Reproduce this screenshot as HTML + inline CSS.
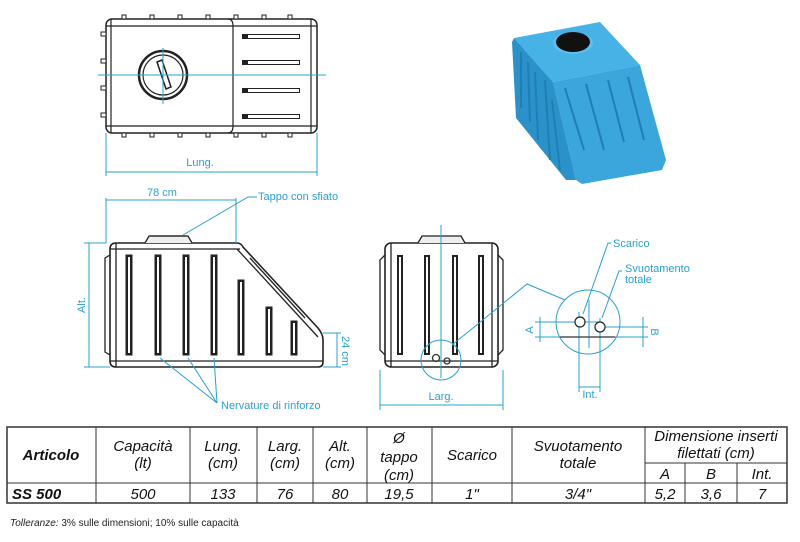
<!DOCTYPE html>
<html><head><meta charset="utf-8"><style>
html,body{margin:0;padding:0;background:#fff;}
svg{display:block;}
text{font-family:"Liberation Sans",sans-serif;}
.c{fill:#2aa0cf;font-size:11px;}
.t{font-size:15px;font-style:italic;fill:#111;}
</style></head><body>
<svg width="800" height="542" viewBox="0 0 800 542" xmlns="http://www.w3.org/2000/svg">
<!-- TOP VIEW -->
<g stroke="#222" fill="none" stroke-width="1.2">
<rect x="106" y="19" width="211" height="114" rx="6" stroke-width="1.5"/>
<line x1="106" y1="26" x2="317" y2="26"/><line x1="106" y1="126" x2="317" y2="126"/>
<line x1="111" y1="19" x2="111" y2="133"/><line x1="311" y1="19" x2="311" y2="133"/>
<path d="M228 19 Q233 19 233 26 L233 126 Q233 133 228 133"/>
<circle cx="163" cy="75" r="24" stroke-width="2.5"/>
<circle cx="163" cy="75" r="20"/>
<path d="M157 62 L162 60 L171 87 L166 89 Z" stroke-width="1.5"/>
</g>
<g fill="#222">
<rect x="242" y="34" width="58" height="5"/><rect x="242" y="60" width="58" height="5"/>
<rect x="242" y="88" width="58" height="5"/><rect x="242" y="114" width="58" height="5"/>
</g>
<g fill="#fff">
<rect x="248" y="35" width="51" height="3"/><rect x="248" y="61" width="51" height="3"/>
<rect x="248" y="89" width="51" height="3"/><rect x="248" y="115" width="51" height="3"/>
</g>
<g stroke="#222" fill="#fff" stroke-width="1">
<rect x="122" y="15" width="4" height="4"/><rect x="150" y="15" width="4" height="4"/><rect x="178" y="15" width="4" height="4"/><rect x="206" y="15" width="4" height="4"/><rect x="234" y="15" width="4" height="4"/><rect x="262" y="15" width="4" height="4"/><rect x="288" y="15" width="4" height="4"/>
<rect x="122" y="133" width="4" height="4"/><rect x="150" y="133" width="4" height="4"/><rect x="178" y="133" width="4" height="4"/><rect x="206" y="133" width="4" height="4"/><rect x="234" y="133" width="4" height="4"/><rect x="262" y="133" width="4" height="4"/><rect x="288" y="133" width="4" height="4"/>
<rect x="101" y="32" width="5" height="4"/><rect x="101" y="59" width="5" height="4"/><rect x="101" y="86" width="5" height="4"/><rect x="101" y="113" width="5" height="4"/>
</g>
<g stroke="#2aa0cf" fill="none" stroke-width="1">
<line x1="98" y1="75" x2="326" y2="75"/><line x1="163" y1="48" x2="163" y2="104"/>
<line x1="106" y1="133" x2="106" y2="176"/><line x1="317" y1="133" x2="317" y2="176"/>
<line x1="106" y1="172" x2="317" y2="172"/>
</g>
<text x="200" y="166" class="c" font-size="12" text-anchor="middle">Lung.</text>

<!-- SIDE VIEW -->
<g stroke="#222" fill="none" stroke-width="1.3">
<path d="M116 243 L237 243 Q241 243 243 247 L318 328 Q323 334 323 340 L323 362 Q323 367 318 367 L116 367 Q110 367 110 361 L110 249 Q110 243 116 243 Z" stroke-width="1.6"/>
<line x1="110" y1="249" x2="240" y2="249"/><line x1="110" y1="361" x2="323" y2="361"/>
<line x1="116" y1="243" x2="116" y2="367"/>
<line x1="237" y1="249" x2="318" y2="337"/>
<path d="M110 255 L105 258 L105 352 L110 355"/>
<path d="M250 258 L305 318"/>
<path d="M145 243 L149 236 L188 236 L192 243" fill="#eee"/>
<line x1="150" y1="236" x2="187" y2="236"/>
</g>
<g fill="#222" stroke="#222">
<rect x="126" y="255" width="6" height="100"/><rect x="155" y="255" width="6" height="100"/><rect x="183" y="255" width="6" height="100"/><rect x="211" y="255" width="6" height="100"/>
<rect x="238" y="280" width="6" height="75"/><rect x="266" y="307" width="6" height="48"/><rect x="291" y="321" width="6" height="34"/>
</g>
<g fill="#fff">
<rect x="128" y="257" width="2" height="96"/><rect x="157" y="257" width="2" height="96"/><rect x="185" y="257" width="2" height="96"/><rect x="213" y="257" width="2" height="96"/>
<rect x="240" y="282" width="2" height="71"/><rect x="268" y="309" width="2" height="44"/><rect x="293" y="323" width="2" height="30"/>
</g>
<g stroke="#2aa0cf" fill="none" stroke-width="1">
<polyline points="84,243 106,243 106,198"/><line x1="236" y1="198" x2="236" y2="243"/>
<line x1="106" y1="200" x2="236" y2="200"/>
<line x1="89" y1="243" x2="89" y2="367"/><line x1="84" y1="367" x2="110" y2="367"/>
<line x1="323" y1="333" x2="341" y2="333"/><line x1="323" y1="367" x2="341" y2="367"/><line x1="337" y1="333" x2="337" y2="367"/>
<polyline points="183,235 248,197 257,197"/>
<line x1="160" y1="358" x2="217" y2="403"/><line x1="188" y1="358" x2="217" y2="403"/><line x1="214" y1="358" x2="217" y2="403"/>
</g>
<text x="162" y="196" class="c" font-size="12" text-anchor="middle">78 cm</text>
<text x="258" y="200" class="c" font-size="10">Tappo con sfiato</text>
<text x="221" y="409" class="c" font-size="10">Nervature di rinforzo</text>
<text transform="translate(85,305) rotate(-90)" class="c" font-size="12" text-anchor="middle">Alt.</text>
<text transform="translate(342,351) rotate(90)" class="c" font-size="11" text-anchor="middle">24 cm</text>

<!-- FRONT VIEW -->
<g stroke="#222" fill="none" stroke-width="1.3">
<rect x="385" y="243" width="113" height="124" rx="6" stroke-width="1.6"/>
<line x1="385" y1="361" x2="498" y2="361"/><line x1="391" y1="243" x2="391" y2="367"/><line x1="492" y1="243" x2="492" y2="367"/>
<path d="M385 255 L380 260 L380 350 L385 355"/><path d="M498 255 L503 260 L503 350 L498 355"/>
<path d="M418 243 L422 236 L461 236 L465 243" fill="#eee"/>
<circle cx="436" cy="358" r="3.5" stroke="#333"/><circle cx="447" cy="361" r="3" stroke="#333"/>
</g>
<g fill="#222">
<rect x="397" y="255" width="6" height="100"/><rect x="424" y="255" width="6" height="100"/><rect x="452" y="255" width="6" height="100"/><rect x="478" y="255" width="6" height="100"/>
</g>
<g fill="#fff">
<rect x="399" y="257" width="2" height="96"/><rect x="426" y="257" width="2" height="96"/><rect x="454" y="257" width="2" height="96"/><rect x="480" y="257" width="2" height="96"/>
</g>
<g stroke="#2aa0cf" fill="none" stroke-width="1">
<line x1="441" y1="225" x2="441" y2="378"/>
<circle cx="441" cy="360" r="20"/>
<polyline points="452,345 527,284 565,300"/>
<line x1="380" y1="370" x2="380" y2="410"/><line x1="503" y1="370" x2="503" y2="410"/>
<line x1="380" y1="405" x2="503" y2="405"/>
<circle cx="588" cy="322" r="32"/>
<line x1="535" y1="322" x2="600" y2="322"/><line x1="605" y1="327" x2="648" y2="327"/>
<line x1="535" y1="337" x2="560" y2="337"/><line x1="615" y1="337" x2="648" y2="337"/>
<line x1="540" y1="317" x2="540" y2="342"/><line x1="643" y1="317" x2="643" y2="347"/>
<line x1="579" y1="312" x2="579" y2="392"/><line x1="600" y1="318" x2="600" y2="392"/>
<line x1="589" y1="300" x2="589" y2="348"/>
<line x1="579" y1="387" x2="600" y2="387"/>
<polyline points="583,314 608,243 611,243"/><polyline points="602,318 619,271 622,271"/>
</g>
<line x1="560" y1="337" x2="615" y2="337" stroke="#333" stroke-width="1.2"/>
<circle cx="580" cy="322" r="5" fill="#fff" stroke="#222" stroke-width="1.2"/>
<circle cx="600" cy="327" r="5" fill="#fff" stroke="#222" stroke-width="1.2"/>
<text x="441" y="400" class="c" font-size="12" text-anchor="middle">Larg.</text>
<text x="613" y="247" class="c" font-size="11">Scarico</text>
<text x="625" y="272" class="c" font-size="11">Svuotamento</text>
<text x="625" y="283" class="c" font-size="11">totale</text>
<text x="590" y="398" class="c" font-size="10" text-anchor="middle">Int.</text>
<text transform="translate(533,330) rotate(-90)" class="c" font-size="11" text-anchor="middle">A</text>
<text transform="translate(651,332) rotate(90)" class="c" font-size="11" text-anchor="middle">B</text>

<!-- 3D -->
<polygon points="514,38 600,22 640,65 553,82" fill="#46b2e6"/>
<polygon points="553,82 640,65 666,160 662,170 582,184 576,180" fill="#3aa6dc"/>
<polygon points="514,38 553,82 576,180 566,180 516,118 512,42" fill="#2b92c9"/>
<g stroke="#1f7fb5" stroke-width="2" fill="none">
<line x1="565" y1="88" x2="584" y2="150"/><line x1="586" y1="84" x2="604" y2="150"/><line x1="608" y1="80" x2="624" y2="142"/><line x1="628" y1="77" x2="644" y2="140"/>
<line x1="521" y1="52" x2="521" y2="108"/><line x1="528" y1="62" x2="530" y2="122"/><line x1="535" y1="72" x2="538" y2="140"/><line x1="545" y1="80" x2="550" y2="160"/><line x1="552" y1="100" x2="560" y2="170"/>
</g>
<ellipse cx="573" cy="43" rx="20" ry="11" fill="#5cc0ec"/>
<ellipse cx="573" cy="42" rx="17" ry="10" fill="#111"/>

<!-- TABLE -->
<g stroke="#333" stroke-width="1" fill="none">
<rect x="7" y="427" width="780" height="76" stroke-width="1.5"/>
<line x1="7" y1="483" x2="787" y2="483"/>
<line x1="96" y1="427" x2="96" y2="503"/><line x1="190" y1="427" x2="190" y2="503"/>
<line x1="257" y1="427" x2="257" y2="503"/><line x1="313" y1="427" x2="313" y2="503"/>
<line x1="367" y1="427" x2="367" y2="503"/><line x1="432" y1="427" x2="432" y2="503"/>
<line x1="512" y1="427" x2="512" y2="503"/><line x1="645" y1="427" x2="645" y2="503"/>
<line x1="645" y1="463" x2="787" y2="463"/>
<line x1="685" y1="463" x2="685" y2="503"/><line x1="737" y1="463" x2="737" y2="503"/>
</g>
<g class="t" text-anchor="middle">
<text x="51" y="460" font-weight="bold" fill="#111" style="font-style:italic">Articolo</text>
<text x="143" y="451" class="t">Capacità</text><text x="143" y="468" class="t">(lt)</text>
<text x="223" y="451" class="t">Lung.</text><text x="223" y="468" class="t">(cm)</text>
<text x="285" y="451" class="t">Larg.</text><text x="285" y="468" class="t">(cm)</text>
<text x="340" y="451" class="t">Alt.</text><text x="340" y="468" class="t">(cm)</text>
<text x="399" y="443" class="t">Ø</text><text x="399" y="462" class="t">tappo</text><text x="399" y="480" class="t">(cm)</text>
<text x="472" y="460" class="t">Scarico</text>
<text x="578" y="451" class="t">Svuotamento</text><text x="578" y="468" class="t">totale</text>
<text x="716" y="441" class="t">Dimensione inserti</text><text x="716" y="458" class="t">filettati (cm)</text>
<text x="665" y="479" class="t">A</text><text x="711" y="479" class="t">B</text><text x="762" y="479" class="t">Int.</text>
<text x="143" y="499" class="t">500</text><text x="223" y="499" class="t">133</text><text x="285" y="499" class="t">76</text>
<text x="340" y="499" class="t">80</text><text x="399" y="499" class="t">19,5</text><text x="472" y="499" class="t">1"</text>
<text x="578" y="499" class="t">3/4"</text><text x="665" y="499" class="t">5,2</text><text x="711" y="499" class="t">3,6</text><text x="762" y="499" class="t">7</text>
</g>
<text x="12" y="499" font-size="15" font-weight="bold" font-style="italic" fill="#111">SS 500</text>
<text x="10" y="526" font-size="10" fill="#222"><tspan font-style="italic">Tolleranze:</tspan> 3% sulle dimensioni; 10% sulle capacità</text>
</svg>
</body></html>
